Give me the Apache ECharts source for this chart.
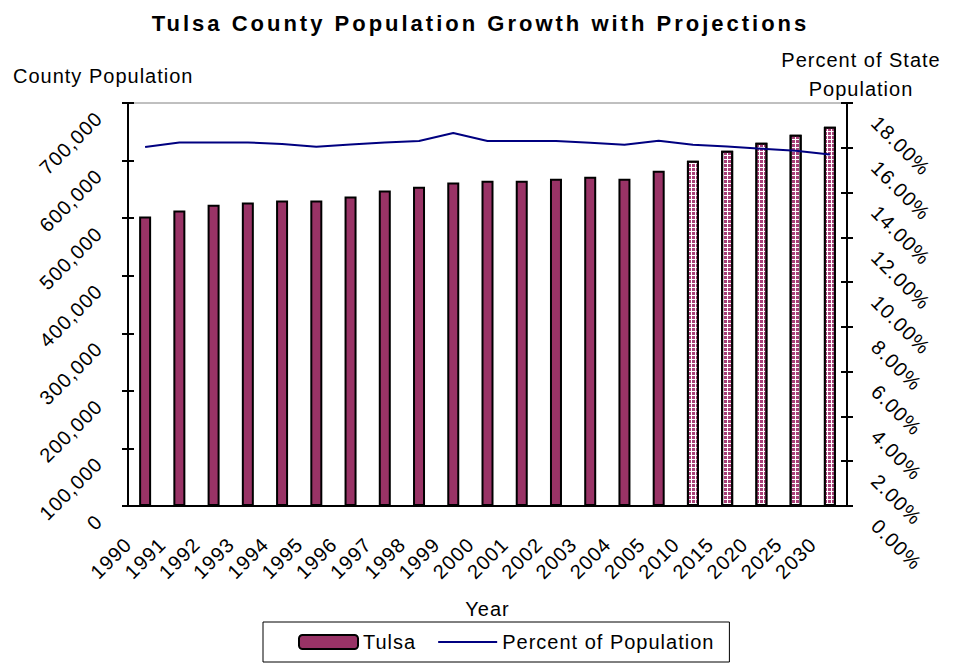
<!DOCTYPE html>
<html>
<head>
<meta charset="utf-8">
<script src="https://cdn.jsdelivr.net/npm/echarts@6/dist/echarts.min.js"></script>
<style>
  html, body { margin: 0; padding: 0; background: #fff; }
  #chart { width: 961px; height: 664px; }
  #chart svg text { letter-spacing: 1px; }
  #chart svg text[style*="22px"] { letter-spacing: 3px; }
</style>
</head>
<body>
<div id="chart"></div>
<script>
const years = ['1990','1991','1992','1993','1994','1995','1996','1997','1998','1999',
               '2000','2001','2002','2003','2004','2005','2010','2015','2020','2025','2030'];
const projectionYears = ['2010','2015','2020','2025','2030'];
const tulsaPopulation = [503000, 513300, 523200, 527200, 530700, 530700, 537700, 548100, 554500, 562000,
                         565000, 565000, 568400, 571900, 568400, 582300, 599700, 617100, 631000, 644900, 658800];
const percentOfState = [16.03, 16.24, 16.24, 16.24, 16.17, 16.05, 16.15, 16.24, 16.30, 16.66,
                        16.30, 16.30, 16.30, 16.23, 16.14, 16.31, 16.14, 16.06, 15.96, 15.87, 15.70];
const leftTicks = { min: 0, max: 700000, interval: 100000 };
const rightTicks = { min: 0, max: 18, interval: 2 };

const FONT = 'Liberation Sans, Arial, sans-serif';
const MAROON = '#993366';

const projectionStyle = {
  color: '#ffffff',
  decal: {
    symbol: 'rect', symbolSize: 1,
    dashArrayX: [3, 1], dashArrayY: [3, 1],
    color: '#a84078', rotation: 0
  }
};

const barData = tulsaPopulation.map((v, i) => projectionYears.includes(years[i])
  ? { value: v, itemStyle: projectionStyle }
  : v);

const chart = echarts.init(document.getElementById('chart'), null, { renderer: 'svg' });

const axisLineStyle = { show: true, lineStyle: { color: '#000', width: 2 } };
const tickStyle = { lineStyle: { color: '#000', width: 2 } };
const labelStyle = { color: '#000', fontSize: 20, fontFamily: FONT };

chart.setOption({
  animation: false,
  backgroundColor: '#fff',
  title: {
    text: 'Tulsa County Population Growth with Projections',
    left: 'center', top: 7,
    textStyle: { fontSize: 22, fontWeight: 'bold', fontFamily: FONT, color: '#000' }
  },
  graphic: [
    { type: 'text', left: 13, top: 66,
      style: { text: 'County Population', fill: '#000', font: '20px ' + FONT } },
    { type: 'text', x: 861, y: 45,
      style: { text: 'Percent of State\nPopulation', fill: '#000', font: '20px ' + FONT,
               align: 'center', lineHeight: 29 } }
  ],
  legend: {
    left: 263, top: 622,
    padding: [10, 36, 10, 35],
    borderColor: '#000', borderWidth: 1,
    itemWidth: 59, itemHeight: 14, itemGap: 26,
    textStyle: { color: '#000', fontSize: 20, fontFamily: FONT },
    data: ['Tulsa', { name: 'Percent of Population', itemStyle: { opacity: 0 } }]
  },
  grid: {
    left: 128, right: 114, top: 103, bottom: 158,
    show: true, borderColor: '#808080', borderWidth: 1, backgroundColor: 'transparent'
  },
  xAxis: [
    {
      type: 'category', data: years, position: 'bottom',
      axisLine: axisLineStyle,
      axisTick: Object.assign({ length: 6, interval: 0 }, tickStyle),
      axisLabel: Object.assign({ rotate: 45, interval: 0, margin: 18, padding: [0, 24, 14, 0] }, labelStyle),
      name: 'Year', nameLocation: 'middle', nameGap: 93,
      nameTextStyle: labelStyle
    },
    {
      type: 'category', data: years, position: 'bottom',
      axisLine: { show: false },
      axisTick: Object.assign({ inside: true, length: 6, interval: 0 }, tickStyle),
      axisLabel: { show: false }
    }
  ],
  yAxis: [
    Object.assign({
      type: 'value', position: 'left',
      axisLine: axisLineStyle,
      axisTick: Object.assign({ show: true, length: 6 }, tickStyle),
      axisLabel: Object.assign({ rotate: 45, margin: 10, padding: [0, 22, 0, 0],
        verticalAlign: 'bottom', lineHeight: 10,
        formatter: v => v.toLocaleString('en-US') }, labelStyle),
      splitLine: { show: false }
    }, leftTicks),
    Object.assign({
      type: 'value', position: 'right',
      axisLine: axisLineStyle,
      axisTick: Object.assign({ show: true, length: 6 }, tickStyle),
      axisLabel: Object.assign({ rotate: -45, margin: 2, padding: [0, 0, 0, 30],
        verticalAlign: 'bottom', lineHeight: 13,
        formatter: v => v.toFixed(2) + '%' }, labelStyle),
      splitLine: { show: false }
    }, rightTicks),
    Object.assign({
      type: 'value', position: 'left',
      axisLine: { show: false },
      axisTick: Object.assign({ show: true, inside: true, length: 6 }, tickStyle),
      axisLabel: { show: false }, splitLine: { show: false }
    }, leftTicks),
    Object.assign({
      type: 'value', position: 'right',
      axisLine: { show: false },
      axisTick: Object.assign({ show: true, inside: true, length: 6 }, tickStyle),
      axisLabel: { show: false }, splitLine: { show: false }
    }, rightTicks)
  ],
  series: [
    {
      name: 'Tulsa', type: 'bar', xAxisIndex: 0, yAxisIndex: 0,
      barWidth: 12,
      itemStyle: { color: MAROON, borderColor: '#000', borderWidth: 2 },
      data: barData
    },
    {
      name: 'Percent of Population', type: 'line', xAxisIndex: 0, yAxisIndex: 1,
      symbol: 'none', showSymbol: false,
      lineStyle: { color: '#000080', width: 2 },
      itemStyle: { color: '#000080' },
      data: percentOfState
    }
  ]
});
</script>
</body>
</html>
